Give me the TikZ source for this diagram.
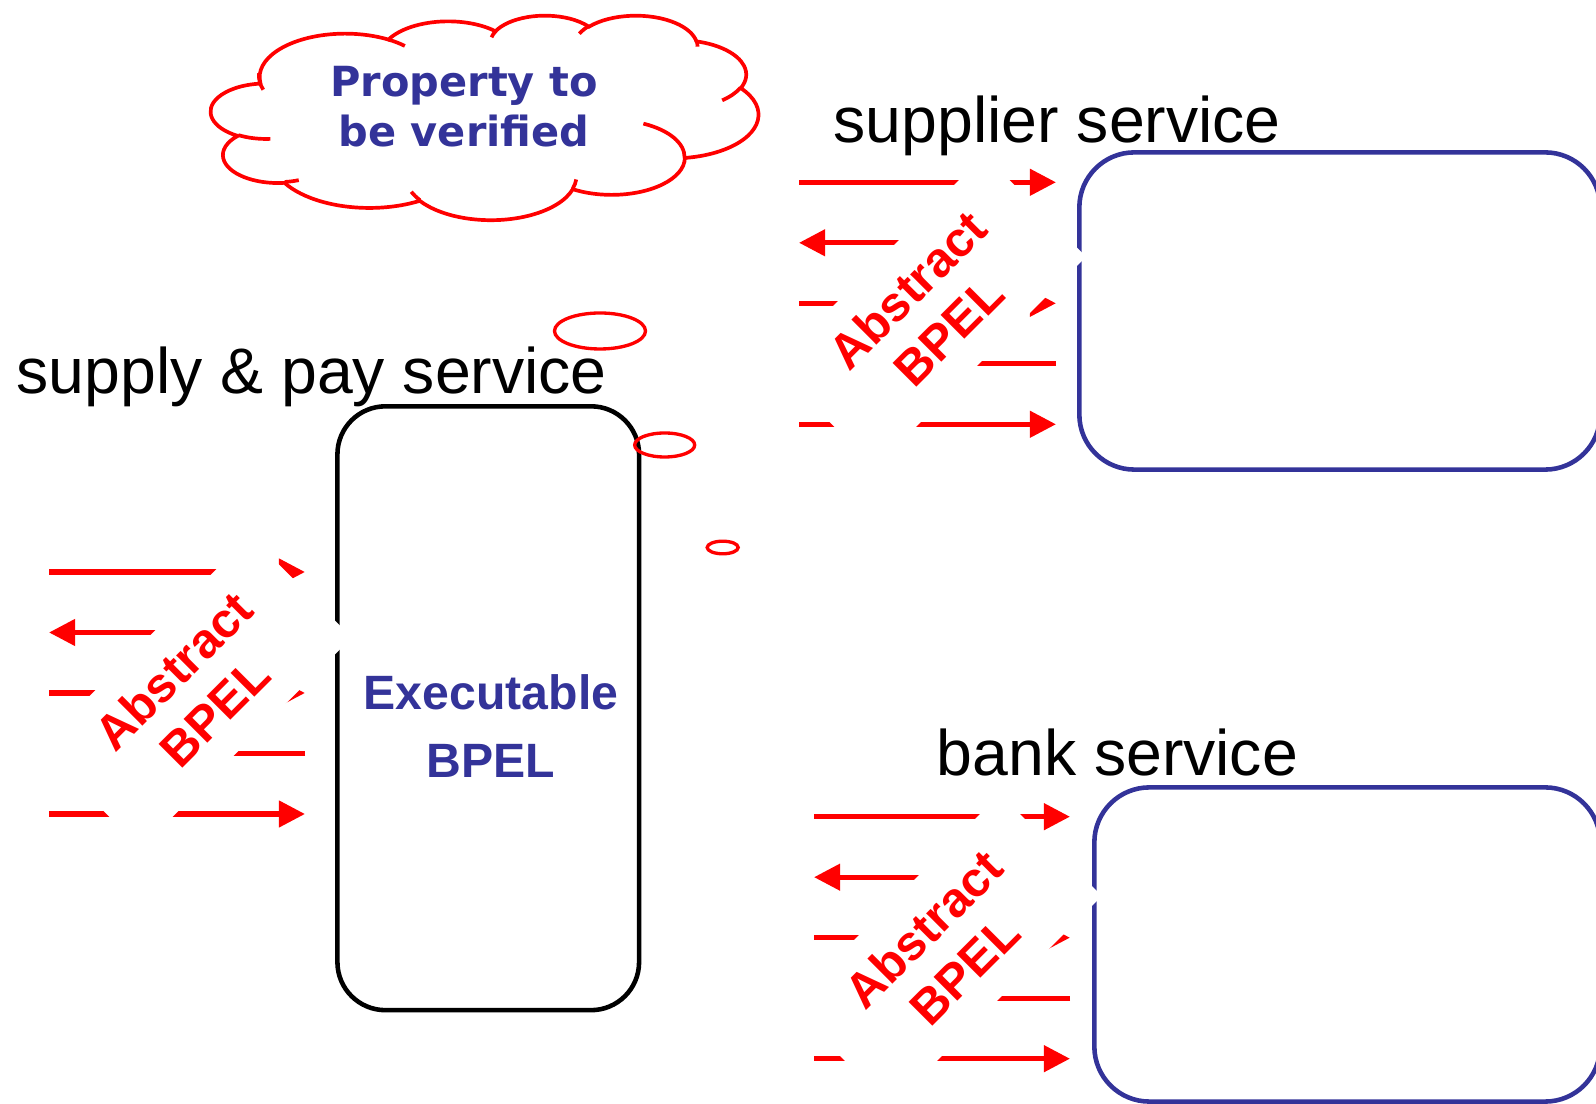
\documentclass[tikz,border=0pt]{standalone}
\usepackage{fontspec}
\setmainfont{Liberation Sans}
\newfontfamily\cloudfont{DejaVu Sans}
\usetikzlibrary{arrows.meta}
\definecolor{navy}{RGB}{51,51,153}

% Elliptical arc whose start angle and sweep are given as visual angles
% (angle of the ray from the centre), as in DrawingML's arcTo.
\newcommand\ooarc[4]{arc[start angle={atan2((#1)*sin(#3),(#2)*cos(#3))},
  delta angle={mod(atan2((#1)*sin((#3)+(#4)),(#2)*cos((#3)+(#4)))-atan2((#1)*sin(#3),(#2)*cos(#3))+720,360)},
  x radius=#1, y radius=#2]}

\begin{document}
\begin{tikzpicture}[x=0.01cm, y=-0.01cm,
  svcbox/.style={draw, line width=1.3pt, inner sep=0pt},
  arr/.style={draw=red, line width=1.5pt, -{Triangle[length=7.4pt,width=7.3pt]}},
  whitebox/.style={fill=white, rotate=45, minimum width=84.79pt, minimum height=40.97pt, inner sep=0pt},
  abstext/.style={rotate=45, text=red, font=\bfseries\fontsize{13.9}{16.5}\selectfont, align=center, inner sep=0pt},
  svclabel/.style={anchor=base west, inner sep=0pt, font=\fontsize{18.3}{22}\selectfont},
  bubble/.style={draw=red, line width=0.95pt},
  cloudline/.style={draw=red, line width=1.05pt}]
\useasboundingbox (0,0) rectangle (1596,1104);
\clip (0,0) rectangle (1596,1104);

% service boxes
\node[svcbox, draw=black, minimum width=85.78pt, minimum height=171.71pt, rounded corners=13.66pt] (sp) at (488.25,708.25) {};
\node[svcbox, draw=navy, minimum width=148.10pt, minimum height=90.20pt, rounded corners=15.65pt] (sup) at (1339.75,311) {};
\node[svcbox, draw=navy, minimum width=143.83pt, minimum height=89.34pt, rounded corners=15.65pt] (bank) at (1347.25,944.5) {};

% service names
\node[svclabel] (spl) at (16,394) {supply \& pay service};
\node[svclabel] (supl) at (833,143) {supplier service};
\node[svclabel] (bankl) at (936,776) {bank service};

% message arrows: ends of the five rows of each interface
\foreach \g/\xa/\xb/\ya in {p/49/305/572, s/799/1056/182.3, b/814/1070/816.7} {
  \foreach \k in {1,...,5} {
    \coordinate (\g L\k) at (\xa, {\ya+60.5*(\k-1)});
    \coordinate (\g R\k) at (\xb, {\ya+60.5*(\k-1)});
  }
}
\foreach \g in {p,s,b} {
  \draw[arr] (\g L1) -- (\g R1);
  \draw[arr] (\g R2) -- (\g L2);
  \draw[arr] (\g L3) -- (\g R3);
  \draw[arr] (\g R4) -- (\g L4);
  \draw[arr] (\g L5) -- (\g R5);
}

% abstract process labels laid over the arrows
\node[whitebox] (pW) at (195.5,692) {};
\node[abstext] (pA) at (194,691) {Abstract\\BPEL};
\node[whitebox] (sW) at (929.75,311.25) {};
\node[abstext] (sA) at (928,310) {Abstract\\BPEL};
\node[whitebox] (bW) at (945.5,950.5) {};
\node[abstext] (bA) at (944,949.5) {Abstract\\BPEL};

% executable process
\node[text=navy, font=\bfseries\fontsize{13.7}{19.35}\selectfont, align=center, inner sep=0pt] (exe) at (491,726.5) {Executable\\BPEL};

% thought bubbles
\draw[bubble] (600,331) ellipse[x radius=45.5, y radius=18];
\draw[bubble] (664.7,445) ellipse[x radius=30, y radius=12];
\draw[bubble] (722.7,547.5) ellipse[x radius=15.5, y radius=6.3];

% cloud outline (path space 4320 x 4320)
\begin{scope}[shift={(211,15)}, x=0.00125926cm, y=-0.00047685cm]
  \path[cloudline, fill=white] (390,1437)
    \ooarc{675.3}{919.0}{-190.4875}{123.7805}
    \ooarc{533.3}{726.7}{-144.1024}{89.9452}
    \ooarc{436.5}{594.5}{-145.8079}{99.7230}
    \ooarc{485.7}{659.5}{-130.9861}{117.2417}
    \ooarc{533.3}{727.3}{-78.7089}{109.0269}
    \ooarc{677.5}{922.0}{-46.2673}{130.2690}
    \ooarc{578.5}{786.7}{0.6250}{114.0333}
    \ooarc{675.2}{921.5}{22.4516}{115.1726}
    \ooarc{772.0}{1054.3}{66.2426}{75.7110}
    \ooarc{436.0}{591.8}{-274.9421}{146.7356}
    \ooarc{434.5}{594.5}{-246.8285}{152.5189}
    -- cycle;
  \draw[cloudline] (469.3,2617.7) \ooarc{434.5}{594.5}{86.742}{26.4295};
  \draw[cloudline] (692.8,3489.9) \ooarc{436.0}{591.8}{73.6105}{11.4475};
  \draw[cloudline] (1647.8,3909.0) \ooarc{675.2}{921.5}{137.6242}{14.0811};
  \draw[cloudline] (2882.7,3475.1) \ooarc{675.2}{921.5}{6.4533}{15.9984};
  \draw[cloudline] (3412.9,2295.4) \ooarc{578.5}{786.7}{-70.2924}{70.9174};
  \draw[cloudline] (4179.8,1535.4) \ooarc{533.3}{727.3}{30.3180}{27.7515};
  \draw[cloudline] (3832.4,542.6) \ooarc{485.7}{659.5}{-13.7443}{14.8589};
  \draw[cloudline] (2907.8,395.2) \ooarc{485.7}{659.5}{-149.1815}{18.1954};
  \draw[cloudline] (2214.1,472.0) \ooarc{436.5}{594.5}{-163.4943}{17.6864};
  \draw[cloudline] (1400.0,519.2) \ooarc{675.3}{919.0}{-66.7070}{12.3194};
  \draw[cloudline] (412.7,1578.9) \ooarc{675.3}{919.0}{155.6472}{29.5432};
\end{scope}
\node[text=navy, font=\cloudfont\bfseries\fontsize{11.8}{14.1}\selectfont, align=center, inner sep=0pt] (prop) at (464,106.5) {Property to\\be verified};
\end{tikzpicture}
\end{document}
